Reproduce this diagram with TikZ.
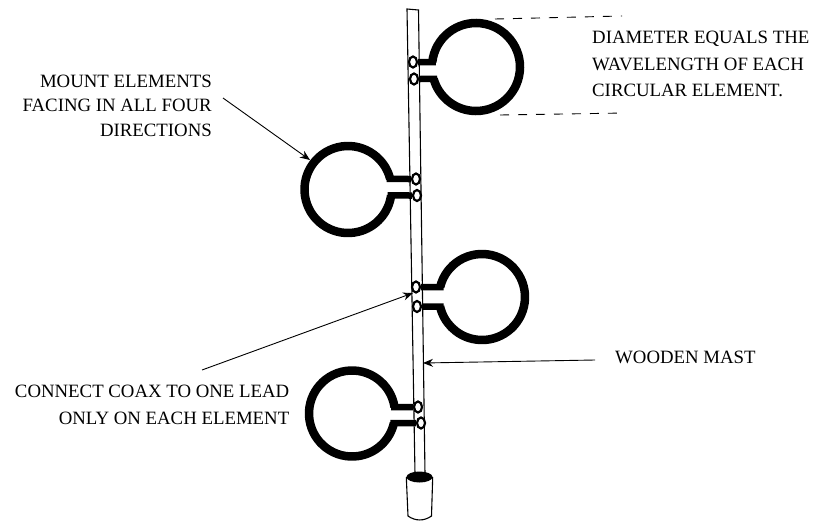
\documentclass[tikz,border=0pt]{standalone}
\usepackage{fontspec}
\setmainfont{Liberation Serif}
\usetikzlibrary{shapes.geometric,arrows.meta}
\tikzset{
screw/.style={ellipse,draw,line width=2.2pt,fill=white,minimum width=8pt,minimum height=11pt,inner sep=0pt},
lead/.style={line width=6.5pt,shorten >=-3.5pt},
loopline/.style={line width=8.5pt},
mastline/.style={line width=1.1pt},
lab/.style={inner sep=0pt,font=\fontsize{18.8}{26.5}\selectfont},
dimline/.style={line width=.9pt,dash pattern=on 9pt off 9pt},
callout/.style={line width=.9pt,-{Stealth[length=10pt,width=8pt]}}
}
\begin{document}
\begin{tikzpicture}[x=1pt,y=1pt]
\useasboundingbox (0,-525) rectangle (814,0);
% mast
\coordinate (mtl) at (407,-9);
\coordinate (mtr) at (418.5,-10);
\coordinate (mbl) at (415,-474);
\coordinate (mbr) at (425,-474);
\draw[mastline] (mbl) -- (mtl) -- (mtr) -- (mbr);
% base
\node[ellipse,fill=black,minimum width=26pt,minimum height=11pt,inner sep=0pt] (cap) at (419.5,-477) {};
\coordinate (bl) at (408,-516);
\coordinate (br) at (431.5,-516);
\draw[mastline] (cap.west) -- (bl) to[bend right=35] (br) -- (cap.east);
% elements
\foreach \nm/\cx/\cy/\r/\angA/\angB/\sxA/\syA/\sxB/\syB/\sdA/\sdB in {
e1/476/-67/44/173.5/-164.2/413/-62/414/-79/east/east,
e2/348/-189.5/43.5/14/352.1/416/-179/417/-195.5/west/west,
e3/482/-297/43/166.6/-167.2/416/-287/417/-306.5/east/east,
e4/352/-413.5/43/8.7/347.2/418/-407/421/-423/west/west}
{
\draw[loopline] (\cx,\cy) ++(\angA:\r) coordinate (\nm ra) arc[start angle=\angA,end angle=\angB,radius=\r] coordinate (\nm rb);
\node[screw] (\nm sa) at (\sxA,\syA) {};
\node[screw] (\nm sb) at (\sxB,\syB) {};
\draw[lead] (\nm sa.\sdA) -- (\nm ra);
\draw[lead] (\nm sb.\sdB) -- (\nm rb);
}
% texts
\node[lab,align=left,anchor=west] (dimtxt) at (592,-64) {DIAMETER EQUALS THE\\WAVELENGTH OF EACH\\CIRCULAR ELEMENT.};
\node[lab,align=right,anchor=east] (mounttxt) at (212,-105.5) {MOUNT ELEMENTS\\[-2pt]FACING IN ALL FOUR\\[-2pt]DIRECTIONS};
\node[lab,align=right,anchor=east] (connecttxt) at (289.5,-405) {CONNECT COAX TO ONE LEAD\\ONLY ON EACH ELEMENT};
\node[lab,anchor=west] (masttxt) at (615,-357) {WOODEN MAST};
% dimension lines
\coordinate (dta) at (495,-19);
\coordinate (dtb) at (622,-16);
\coordinate (dba) at (500,-115);
\coordinate (dbb) at (625,-113);
\draw[dimline] (dta) -- (dtb);
\draw[dimline] (dba) -- (dbb);
% arrows
\coordinate (mountend) at (310,-160);
\coordinate (mountstart) at (223,-98);
\coordinate (connectend) at (413,-293);
\coordinate (connectstart) at (202,-370);
\coordinate (mastend) at (423,-363);
\coordinate (maststart) at (595,-360);
\foreach \from/\to in {mountstart/mountend,connectstart/connectend,maststart/mastend}
\draw[callout] (\from) -- (\to);
\end{tikzpicture}
\end{document}
